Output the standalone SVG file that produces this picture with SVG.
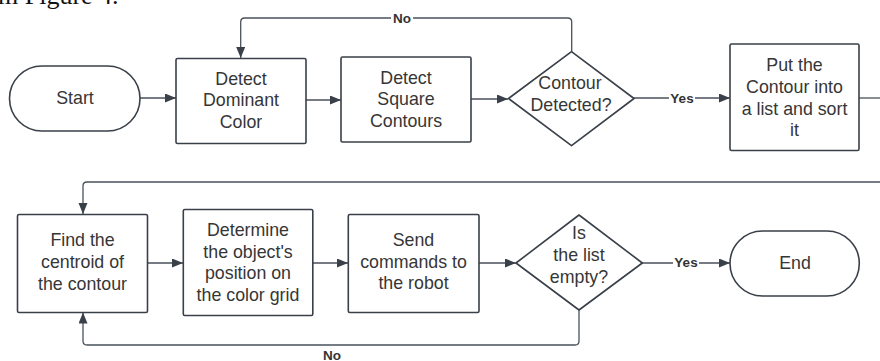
<svg xmlns="http://www.w3.org/2000/svg" width="880" height="361" viewBox="0 0 880 361">
<style>
.node{fill:#ffffff;stroke:#3a4049;stroke-width:1.6}
.t{font-family:"Liberation Sans",Arial,sans-serif;font-size:17.8px;fill:#363636;text-anchor:middle}
.lbl{font-family:"Liberation Sans",Arial,sans-serif;font-size:13.5px;font-weight:bold;fill:#333333;text-anchor:middle}
.c{fill:none;stroke:#4a515b;stroke-width:1.3}
.bg{fill:#ffffff}
</style>
<defs>
<marker id="ah" markerUnits="userSpaceOnUse" markerWidth="12" markerHeight="10" refX="11" refY="4.5" orient="auto">
<path d="M0,0 L11,4.5 L0,9 z" fill="#3a4049"/>
</marker>
</defs>
<rect width="880" height="361" fill="#ffffff"/>
<text x="-2" y="4" font-family="'Liberation Serif',serif" font-size="26" fill="#111111">m Figure 4.</text>

<g id="connectors">
<path class="c" d="M140,98 H176" marker-end="url(#ah)"/>
<path class="c" d="M306,100 H341" marker-end="url(#ah)"/>
<path class="c" d="M471,99 H508" marker-end="url(#ah)"/>
<path class="c" d="M571.7,51.7 V22 Q571.7,18 567.7,18 H244.7 Q240.7,18 240.7,22 V58" marker-end="url(#ah)"/>
<path class="c" d="M634,98 H730" marker-end="url(#ah)"/>
<path class="c" d="M859,98 H880"/>
<path class="c" d="M880,182 H87 Q83,182 83,186 V214" marker-end="url(#ah)"/>
<path class="c" d="M147,263 H183" marker-end="url(#ah)"/>
<path class="c" d="M313,263 H348" marker-end="url(#ah)"/>
<path class="c" d="M479,263 H516" marker-end="url(#ah)"/>
<path class="c" d="M579,310 V341 Q579,345 575,345 H87 Q83,345 83,341 V312.5" marker-end="url(#ah)"/>
<path class="c" d="M642,263 H730" marker-end="url(#ah)"/>
<rect class="bg" x="391" y="11" width="22" height="14"/>
<text class="lbl" x="402" y="22.8">No</text>
<rect class="bg" x="669" y="91" width="26" height="14"/>
<text class="lbl" x="682" y="102.8">Yes</text>
<rect class="bg" x="673" y="255" width="26" height="14"/>
<text class="lbl" x="686" y="266.5">Yes</text>
<text class="lbl" x="332" y="359.5">No</text>
</g>

<g id="start">
<rect class="node" x="9.5" y="66" width="130.5" height="65" rx="32.5"/>
<text class="t" x="75" y="103.5">Start</text>
</g>
<g id="detect-dominant-color">
<rect class="node" x="176" y="58.5" width="130" height="85" rx="1.5"/>
<text class="t" x="241" y="85">Detect</text>
<text class="t" x="241" y="106">Dominant</text>
<text class="t" x="241" y="127.5">Color</text>
</g>
<g id="detect-square-contours">
<rect class="node" x="341" y="57" width="130" height="85" rx="1.5"/>
<text class="t" x="406" y="83.5">Detect</text>
<text class="t" x="406" y="105">Square</text>
<text class="t" x="406" y="126.5">Contours</text>
</g>
<g id="contour-detected">
<path class="node" d="M571.5,51.7 L634,98.5 L571.5,145.7 L508.5,98.5 Z" stroke-linejoin="round"/>
<text class="t" x="570" y="89">Contour</text>
<text class="t" x="571" y="111">Detected?</text>
</g>
<g id="put-contour-list">
<rect class="node" x="730" y="44" width="129" height="106.5" rx="1.5"/>
<text class="t" x="794.5" y="71">Put the</text>
<text class="t" x="794.5" y="93.3">Contour into</text>
<text class="t" x="794.5" y="114.5">a list and sort</text>
<text class="t" x="794.5" y="136">it</text>
</g>
<g id="find-centroid">
<rect class="node" x="17.5" y="214.5" width="130" height="98" rx="1.5"/>
<text class="t" x="82.5" y="246">Find the</text>
<text class="t" x="82.5" y="268">centroid of</text>
<text class="t" x="82.5" y="289.5">the contour</text>
</g>
<g id="determine-position">
<rect class="node" x="183.3" y="209.5" width="129.5" height="106" rx="1.5"/>
<text class="t" x="248" y="236">Determine</text>
<text class="t" x="248" y="257.7">the object's</text>
<text class="t" x="248" y="279.3">position on</text>
<text class="t" x="248" y="301">the color grid</text>
</g>
<g id="send-commands">
<rect class="node" x="348.3" y="214.5" width="130.7" height="98" rx="1.5"/>
<text class="t" x="413.5" y="246">Send</text>
<text class="t" x="413.5" y="267.7">commands to</text>
<text class="t" x="413.5" y="289.3">the robot</text>
</g>
<g id="list-empty">
<path class="node" d="M579,215 L642.3,263 L579,310 L516,263 Z" stroke-linejoin="round"/>
<text class="t" x="579" y="238.5">Is</text>
<text class="t" x="579" y="260.5">the list</text>
<text class="t" x="579" y="282.5">empty?</text>
</g>
<g id="end">
<rect class="node" x="730" y="231" width="129.3" height="65" rx="32.5"/>
<text class="t" x="795" y="268.5">End</text>
</g>
</svg>
